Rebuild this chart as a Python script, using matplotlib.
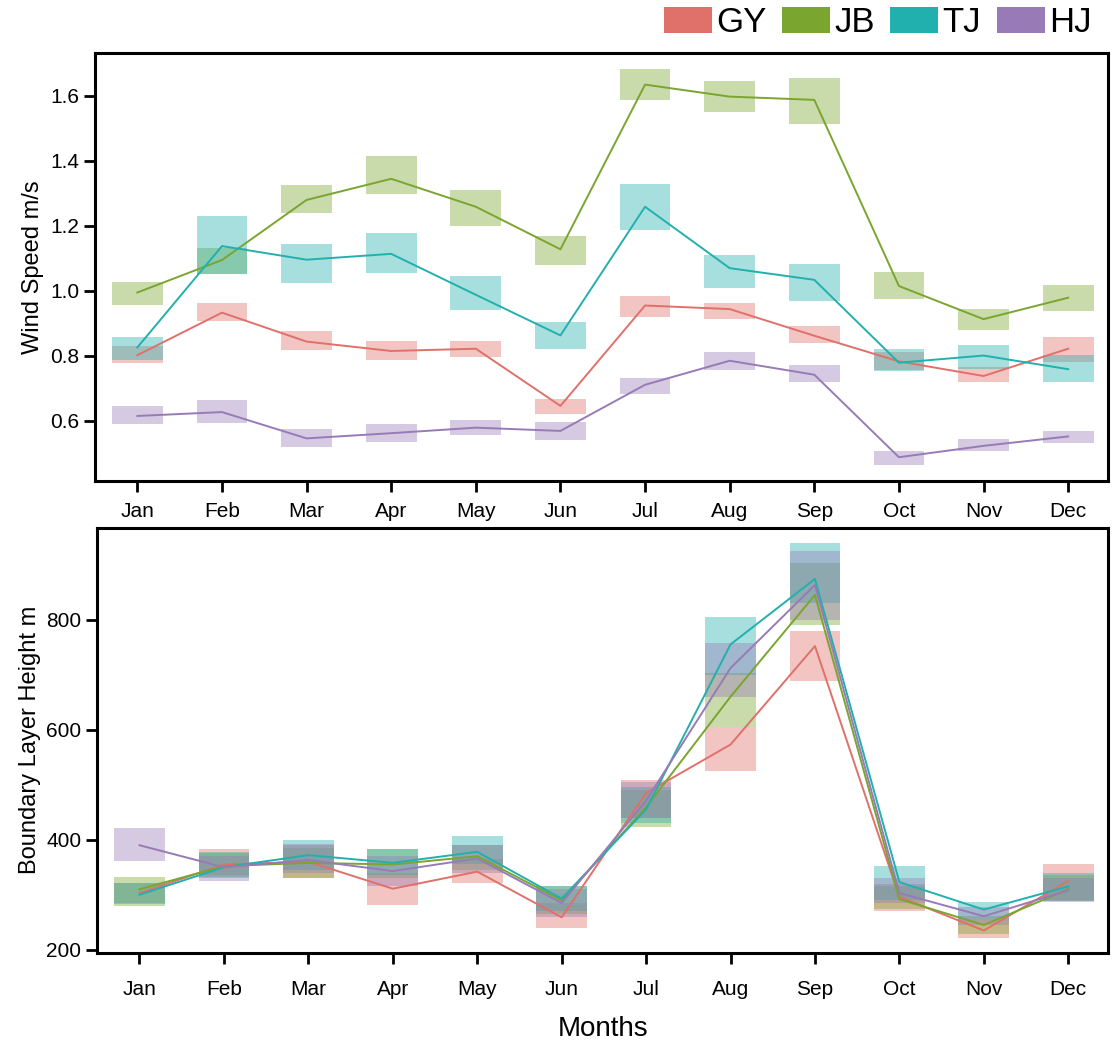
import matplotlib.pyplot as plt
import numpy as np
from matplotlib.patches import Patch

plt.rcParams['font.family'] = ['Liberation Sans', 'DejaVu Sans']

months = ['Jan', 'Feb', 'Mar', 'Apr', 'May', 'Jun', 'Jul', 'Aug', 'Sep', 'Oct', 'Nov', 'Dec']
sites = ['GY', 'JB', 'TJ', 'HJ']
colors = ['#E0706A', '#7AA52F', '#22B0AE', '#987BB6']

# Wind speed (m/s): monthly mean, lower and upper bound of the band
ws_GY = [0.802, 0.933, 0.844, 0.815, 0.822, 0.646, 0.955, 0.944, 0.862, 0.783, 0.738, 0.822]
ws_GY_lo = [0.777, 0.908, 0.818, 0.788, 0.798, 0.621, 0.921, 0.915, 0.841, 0.756, 0.719, 0.780]
ws_GY_hi = [0.829, 0.962, 0.876, 0.847, 0.846, 0.668, 0.983, 0.964, 0.893, 0.812, 0.765, 0.858]

ws_JB = [0.995, 1.095, 1.280, 1.345, 1.259, 1.128, 1.635, 1.598, 1.588, 1.015, 0.913, 0.979]
ws_JB_lo = [0.957, 1.051, 1.239, 1.299, 1.201, 1.080, 1.588, 1.551, 1.514, 0.974, 0.880, 0.938]
ws_JB_hi = [1.027, 1.131, 1.327, 1.414, 1.311, 1.169, 1.682, 1.647, 1.654, 1.058, 0.944, 1.018]

ws_TJ = [0.826, 1.138, 1.096, 1.114, 0.988, 0.863, 1.259, 1.070, 1.034, 0.779, 0.801, 0.759]
ws_TJ_lo = [0.787, 1.051, 1.024, 1.056, 0.942, 0.822, 1.187, 1.010, 0.969, 0.754, 0.759, 0.719]
ws_TJ_hi = [0.857, 1.231, 1.145, 1.178, 1.047, 0.904, 1.329, 1.110, 1.082, 0.820, 0.832, 0.803]

ws_HJ = [0.615, 0.627, 0.546, 0.562, 0.579, 0.569, 0.711, 0.785, 0.742, 0.488, 0.523, 0.552]
ws_HJ_lo = [0.591, 0.593, 0.518, 0.535, 0.555, 0.540, 0.683, 0.757, 0.719, 0.465, 0.506, 0.532]
ws_HJ_hi = [0.647, 0.665, 0.575, 0.590, 0.603, 0.596, 0.731, 0.813, 0.772, 0.508, 0.544, 0.570]

# Boundary layer height (m)
blh_GY = [303, 355, 360, 311, 342, 259, 485, 573, 752, 296, 235, 325]
blh_GY_lo = [285, 335, 330, 282, 321, 240, 440, 525, 689, 271, 221, 290]
blh_GY_hi = [322, 384, 390, 340, 365, 285, 509, 604, 779, 320, 255, 356]

blh_JB = [310, 352, 358, 355, 370, 290, 459, 660, 845, 292, 245, 310]
blh_JB_lo = [280, 332, 330, 330, 345, 265, 423, 604, 790, 275, 228, 288]
blh_JB_hi = [333, 375, 385, 384, 390, 315, 490, 703, 903, 315, 262, 335]

blh_TJ = [300, 350, 372, 358, 378, 293, 455, 755, 874, 323, 273, 315]
blh_TJ_lo = [283, 330, 345, 335, 355, 270, 430, 700, 830, 290, 255, 288]
blh_TJ_hi = [322, 378, 400, 384, 406, 315, 495, 805, 939, 353, 286, 340]

blh_HJ = [390, 350, 363, 343, 366, 285, 471, 712, 863, 303, 261, 308]
blh_HJ_lo = [362, 325, 340, 315, 340, 260, 440, 660, 800, 285, 245, 286]
blh_HJ_hi = [422, 370, 392, 370, 390, 310, 505, 758, 924, 330, 278, 330]

ws = [(ws_GY, ws_GY_lo, ws_GY_hi), (ws_JB, ws_JB_lo, ws_JB_hi),
      (ws_TJ, ws_TJ_lo, ws_TJ_hi), (ws_HJ, ws_HJ_lo, ws_HJ_hi)]
blh = [(blh_GY, blh_GY_lo, blh_GY_hi), (blh_JB, blh_JB_lo, blh_JB_hi),
       (blh_TJ, blh_TJ_lo, blh_TJ_hi), (blh_HJ, blh_HJ_lo, blh_HJ_hi)]

x = np.arange(1, 13)

fig = plt.figure(figsize=(11.18, 10.41), dpi=100)
ax1 = fig.add_axes([0.085, 0.538, 0.906, 0.411])
ax2 = fig.add_axes([0.087, 0.085, 0.904, 0.408])


def draw_panel(ax, data):
    # band for each month as a floating bar, mean as a line
    for (mean, lo, hi), c in zip(data, colors):
        lo = np.array(lo)
        hi = np.array(hi)
        ax.bar(x, hi - lo, bottom=lo, width=0.6, color=c, alpha=0.4, linewidth=0)
    for (mean, lo, hi), c in zip(data, colors):
        ax.plot(x, mean, color=c, linewidth=1.4)
    ax.set_xlim(0.5, 12.47)
    ax.set_xticks(x)
    ax.set_xticklabels(months)
    ax.tick_params(axis='both', direction='out', length=8, width=2, labelsize=15)
    ax.tick_params(axis='x', pad=7)
    for s in ax.spines.values():
        s.set_linewidth(2.2)


draw_panel(ax1, ws)
ax1.set_ylim(0.415, 1.732)
ax1.set_yticks([0.6, 0.8, 1.0, 1.2, 1.4, 1.6])
ax1.set_yticklabels(['0.6', '0.8', '1.0', '1.2', '1.4', '1.6'])
ax1.set_ylabel('Wind Speed m/s', fontsize=17)

draw_panel(ax2, blh)
ax2.set_ylim(195, 967)
ax2.set_yticks([200, 400, 600, 800])
ax2.tick_params(axis='x', pad=12)
ax2.set_ylabel('Boundary Layer Height m', fontsize=17)
ax2.set_xlabel('Months', fontsize=20, labelpad=12)

handles = [Patch(facecolor=c, label=s) for s, c in zip(sites, colors)]
fig.legend(handles=handles, loc='upper right', bbox_to_anchor=(1.004, 1.024), ncol=4,
           frameon=False, fontsize=25, handlelength=1.38, handleheight=0.8,
           handletextpad=0.12, columnspacing=0.45)

plt.savefig('out.png', dpi=100)
